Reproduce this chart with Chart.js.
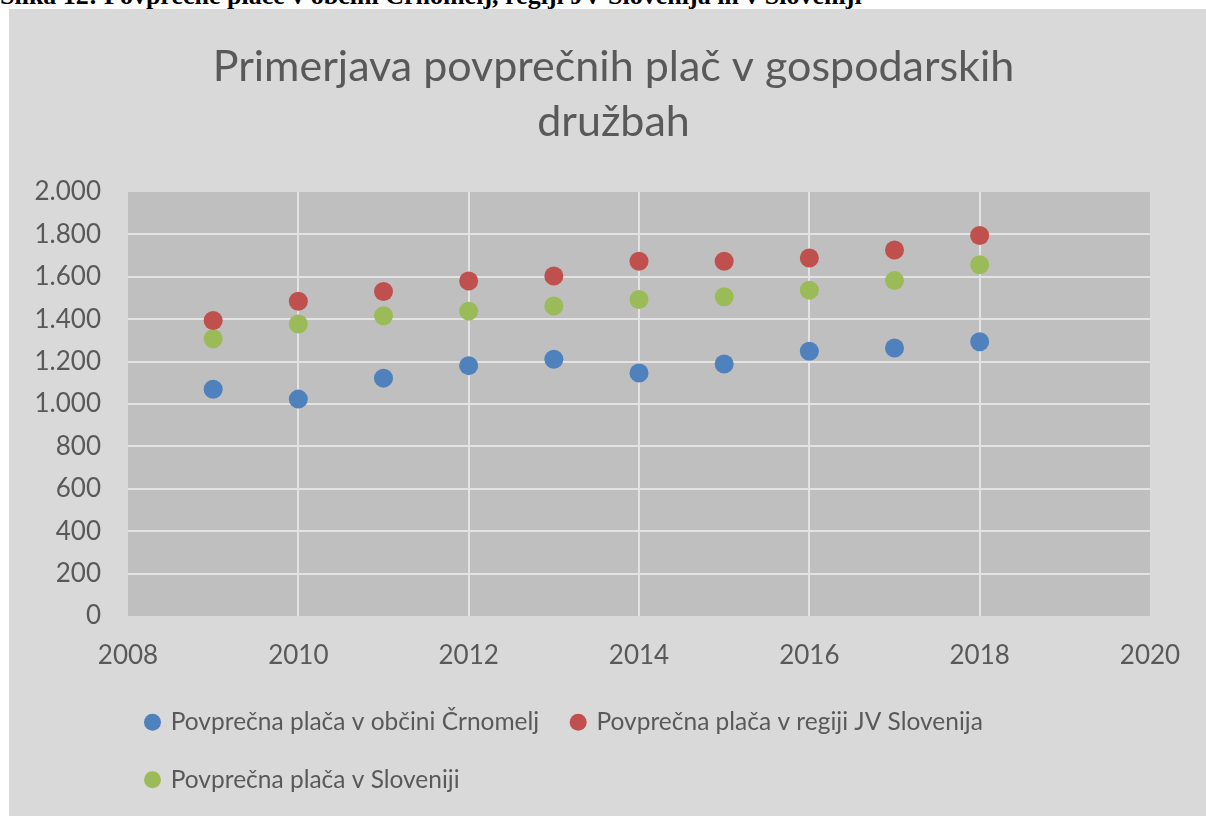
<!DOCTYPE html>
<html lang="sl">
<head>
  <meta charset="UTF-8">
  <title>Primerjava povprečnih plač v gospodarskih družbah</title>
  <script src="https://cdn.jsdelivr.net/npm/chart.js"></script>
  <style>
    body {
      margin: 0;
      background: #ffffff;
      overflow: hidden;
    }
    #caption {
      position: absolute;
      left: 0;
      top: -17px;
      font: bold 26px "Liberation Serif", serif;
      line-height: 26px;
      white-space: nowrap;
      color: #000;
      z-index: 0;
    }
    #chart-box {
      position: absolute;
      left: 9px;
      top: 9px;
      width: 1197px;
      height: 807px;
      background: #d9d9d9;
      z-index: 1;
    }
  </style>
</head>
<body>
  <div id="caption">Slika 12: Povprečne plače v občini Črnomelj, regiji JV Slovenija in v Sloveniji</div>
  <div id="chart-box">
    <canvas id="placeChart"></canvas>
  </div>

  <script>
    // data (EUR)
    const years = [2009, 2010, 2011, 2012, 2013, 2014, 2015, 2016, 2017, 2018];
    const crnomelj = [1070, 1023, 1122, 1181, 1211, 1146, 1189, 1249, 1264, 1294];
    const regijaJV = [1394, 1485, 1531, 1580, 1604, 1673, 1673, 1689, 1726, 1795];
    const slovenija = [1308, 1377, 1416, 1438, 1462, 1493, 1506, 1537, 1582, 1657];

    const seriesNames = [
      'Povprečna plača v občini Črnomelj',
      'Povprečna plača v regiji JV Slovenija',
      'Povprečna plača v Sloveniji'
    ];
    const titleLines = ['Primerjava povprečnih plač v gospodarskih', 'družbah'];

    const textColor = '#595959';
    const fontFamily = 'Lato, "Open Sans", sans-serif';

    function points(values) {
      return years.map((y, i) => ({ x: y, y: values[i] }));
    }

    function thousands(v) {
      if (v < 1000) return String(v);
      return Math.floor(v / 1000) + '.' + String(v % 1000).padStart(3, '0');
    }

    // grey plot area; title and legend moved to where Excel put them
    const plotBackground = {
      id: 'plotBackground',
      afterLayout(chart) {
        chart.titleBlock.left += 68;
        chart.legend.left += 104.5;
      },
      beforeDraw(chart) {
        const { ctx, chartArea: a } = chart;
        ctx.save();
        ctx.fillStyle = '#bfbfbf';
        ctx.fillRect(a.left, a.top, a.right - a.left, a.bottom - a.top);
        ctx.restore();
      }
    };

    function dataset(label, values, color) {
      return {
        label: label,
        data: points(values),
        backgroundColor: color,
        borderColor: color,
        borderWidth: 0,
        pointRadius: 9.5,
        pointBorderWidth: 0,
        pointStyle: 'circle'
      };
    }

    const ctx = document.getElementById('placeChart').getContext('2d');
    new Chart(ctx, {
      type: 'scatter',
      data: {
        datasets: [
          dataset(seriesNames[0], crnomelj, '#4f81bd'),
          dataset(seriesNames[1], regijaJV, '#c0504d'),
          dataset(seriesNames[2], slovenija, '#9bbb59')
        ]
      },
      options: {
        responsive: true,
        maintainAspectRatio: false,
        animation: false,
        layout: {
          padding: { left: 0, right: 56, top: 0, bottom: 14 }
        },
        plugins: {
          tooltip: { enabled: false },
          title: {
            display: true,
            text: titleLines,
            color: textColor,
            font: { family: fontFamily, size: 43, weight: 'normal', lineHeight: '55px' },
            padding: { top: 30.5, bottom: 42.5 }
          },
          legend: {
            position: 'bottom',
            align: 'start',
            labels: {
              usePointStyle: true,
              pointStyle: 'circle',
              boxWidth: 12,
              boxHeight: 12,
              padding: 33,
              color: textColor,
              font: { family: fontFamily, size: 24.5 }
            }
          }
        },
        scales: {
          x: {
            type: 'linear',
            min: 2008,
            max: 2020,
            afterFit: (scale) => { scale.height = 61; },
            ticks: {
              stepSize: 2,
              padding: 24,
              color: textColor,
              font: { family: fontFamily, size: 26 },
              callback: (v) => String(v)
            },
            grid: {
              drawTicks: false,
              lineWidth: 2,
              color: (c) => (c.tick && (c.tick.value === 2008 || c.tick.value === 2020)) ? 'rgba(0,0,0,0)' : '#e3e3e3'
            },
            border: { display: false }
          },
          y: {
            min: 0,
            max: 2000,
            afterFit: (scale) => { scale.width = 119; },
            ticks: {
              stepSize: 200,
              padding: 27,
              color: textColor,
              font: { family: fontFamily, size: 26 },
              callback: (v) => thousands(v)
            },
            grid: {
              drawTicks: false,
              lineWidth: 2,
              color: (c) => (c.tick && (c.tick.value === 0 || c.tick.value === 2000)) ? 'rgba(0,0,0,0)' : '#e3e3e3'
            },
            border: { display: false }
          }
        }
      },
      plugins: [plotBackground]
    });
  </script>
</body>
</html>
